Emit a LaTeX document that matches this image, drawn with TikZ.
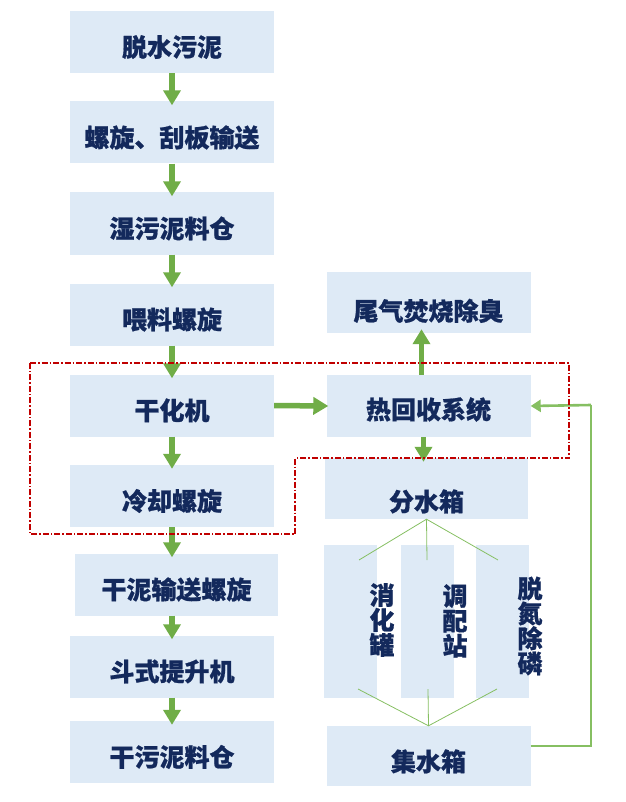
\documentclass[tikz,border=0pt]{standalone}
\usepackage{fontspec}
\newfontfamily\cjkfont{Noto Sans CJK SC}[BoldFeatures={FakeBold=0.8}]
\usetikzlibrary{arrows.meta,positioning,calc}
\definecolor{boxblue}{HTML}{DEEAF6}
\definecolor{navytext}{HTML}{13295C}
\definecolor{flowgreen}{HTML}{70AD47}
\definecolor{linegreen}{HTML}{86BF62}
\definecolor{darkred}{HTML}{C00000}

\begin{document}
\begin{tikzpicture}[
    x=1pt, y=-1pt,
    stage/.style={rectangle, fill=boxblue, minimum width=204pt, minimum height=62pt, inner sep=0pt,
        text height=32pt, text depth=3pt,
        text=navytext, font=\cjkfont\bfseries\fontsize{25}{25}\selectfont},
    tank/.style={rectangle, fill=boxblue, minimum width=53pt, minimum height=153pt, inner sep=0pt},
    vtext/.style={align=center, inner sep=0pt, text=navytext, font=\cjkfont\bfseries\fontsize{25}{25}\selectfont},
    flow/.style={draw=flowgreen, line width=5.5pt, -{Triangle[width=17pt,length=15pt]}, shorten >=-4pt},
    fan/.style={draw=linegreen, line width=0.8pt},
    backflow/.style={draw=linegreen, line width=1.4pt},
    zone/.style={draw=darkred, line width=1.2pt, dash pattern=on 6pt off 2pt on 1.5pt off 2pt}
]
\useasboundingbox (0,0) rectangle (625,802);

% LINEA FANGHI (sinistra)
\node[stage] (sludge) at (172,42) {脱水污泥};
\node[stage] (scraper) at (172,132.5) {螺旋、刮板输送};
\node[stage] (wetbin) at (172,223.5) {湿污泥料仓};
\node[stage] (feed) at (172,314.5) {喂料螺旋};
\node[stage] (dryer) at (172,405.5) {干化机};
\node[stage] (cooler) at (172,496) {冷却螺旋};
\node[stage, minimum width=203pt] (convey) at (176.5,584.5) {干泥输送螺旋};
\node[stage] (lift) at (172,666.5) {斗式提升机};
\node[stage] (drybin) at (172,752) {干污泥料仓};

\draw[flow] (sludge) -- (scraper);
\draw[flow] (scraper) -- (wetbin);
\draw[flow] (wetbin) -- (feed);
\draw[flow] (feed) -- (dryer);
\draw[flow] (dryer) -- (cooler);
\draw[flow] (cooler.south) -- (cooler.south |- convey.north);
\draw[flow] (convey.south -| lift.north) -- (lift.north);
\draw[flow] (lift) -- (drybin);

% RECUPERO CALORE (destra)
\node[stage, minimum height=61pt, text height=39pt] (odor) at (428.5,302.5) {尾气焚烧除臭};
\node[stage, text height=29pt] (heat) at (428.5,406) {热回收系统};
\node[stage, minimum width=203pt, minimum height=61pt, text height=48pt] (split) at (426.5,488.5) {分水箱};
\node[stage, minimum height=60pt, text height=33pt] (collect) at (428.5,756) {集水箱};

\draw[flow, shorten >=-2pt] (dryer.east) -- (heat.west);
\draw[flow] ([xshift=-7pt]heat.north) -- ([xshift=-7pt]heat.north |- odor.south);
\draw[flow] ([xshift=-5pt]heat.south) -- ([xshift=-5pt]heat.south |- split.north);

% VASCHE
\node[tank] (digest) at (350.5,621.5) {};
\node[tank] (mix) at (427,621.5) {};
\node[tank] (denit) at (502,621.5) {};
\node[vtext] at (382,620) {消\\化\\罐};
\node[vtext] at (455,621) {调\\配\\站};
\node[vtext] at (530,626) {脱\\氮\\除\\磷};

\coordinate (fa) at (359,560);
\coordinate (fb) at (427,560);
\coordinate (fc) at (498,560);
\coordinate (ga) at (358,689);
\coordinate (gb) at (428,689);
\coordinate (gc) at (497,689);
\draw[fan] (fa) -- (split.south) -- (fc);
\draw[fan] (split.south) -- (fb);
\draw[fan] (ga) -- (collect.north) -- (gc);
\draw[fan] (gb) -- (collect.north);

% RITORNO ACQUA
\coordinate (ret) at (591,405);
\draw[backflow] ([yshift=10pt]collect.east) -| (ret);
\draw[backflow, line width=2.6pt, -{Triangle[width=12pt,length=10pt]}] (ret) -- (heat.east);

% ZONA DI ESSICCAZIONE
\draw[zone] (30,363) -- (569,363) -- (569,458) -- (295,458) -- (295,534) -- (30,534) -- cycle;

\end{tikzpicture}
\end{document}
